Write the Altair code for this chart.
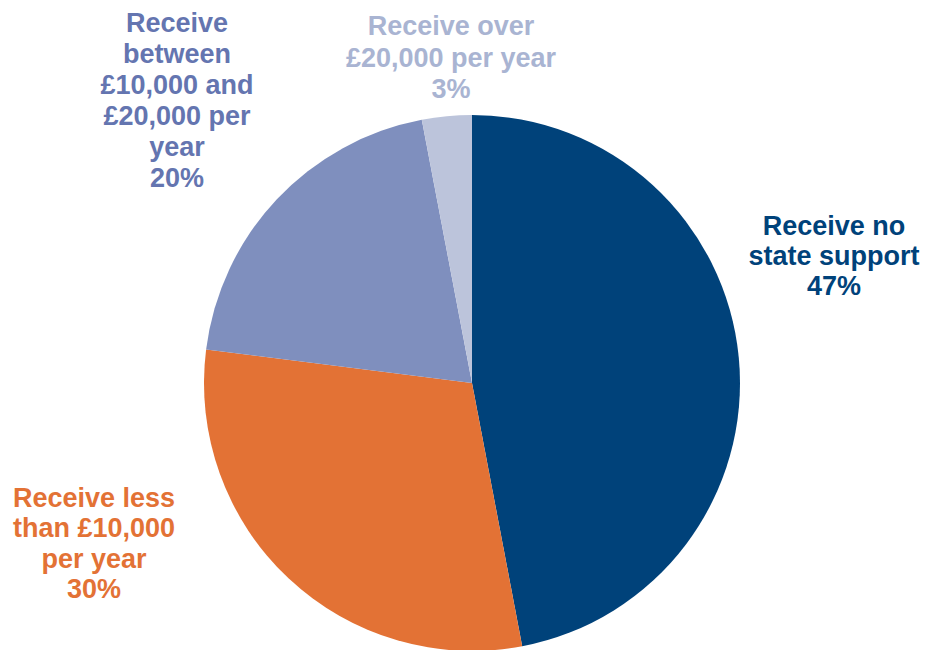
import altair as alt
import pandas as pd

# Data
categories = ["Receive no state support", "Receive less than £10,000 per year",
              "Receive between £10,000 and £20,000 per year", "Receive over £20,000 per year"]
shares = [47, 30, 20, 3]
slice_colors = ["#00427A", "#E37235", "#7F8FBE", "#BCC4DB"]
label_colors = ["#00427A", "#E37235", "#6475B0", "#A9B4D2"]
label_lines = [
    ["Receive no", "state support"],
    ["Receive less", "than £10,000", "per year"],
    ["Receive", "between", "£10,000 and", "£20,000 per", "year"],
    ["Receive over", "£20,000 per year"],
]

df = pd.DataFrame({"category": categories, "share": shares, "order": list(range(len(categories)))})

W, H = 914, 642
CX, CY, R = 464, 375, 268

pie = alt.Chart(df).mark_arc(outerRadius=R, stroke=None).encode(
    theta=alt.Theta("share:Q", stack=True),
    order=alt.Order("order:Q"),
    color=alt.Color("category:N", scale=alt.Scale(domain=categories, range=slice_colors), legend=None),
    x=alt.value(CX),
    y=alt.value(CY),
)

# label layout (view coords): x center, first baseline, line height
label_pos = [(826, 227, 30), (86, 499, 30.3), (169, 24, 31), (443, 27, 31.5)]

layers = [pie]
for i, cat in enumerate(categories):
    lx, ly, lh = label_pos[i]
    txt = label_lines[i] + [f"{shares[i]}%"]
    layers.append(
        alt.Chart(df).transform_filter(alt.datum.category == cat).mark_text(
            font="Liberation Sans", fontWeight="bold", fontSize=27, align="center",
            baseline="alphabetic", lineHeight=lh, color=label_colors[i],
        ).encode(x=alt.value(lx), y=alt.value(ly), text=alt.value(txt))
    )

chart = alt.layer(*layers).properties(
    width=W, height=H, padding=0, autosize=alt.AutoSizeParams(type="none")
).configure_view(stroke=None)

chart.save("out.html", embed_options={"renderer": "svg", "actions": False})
